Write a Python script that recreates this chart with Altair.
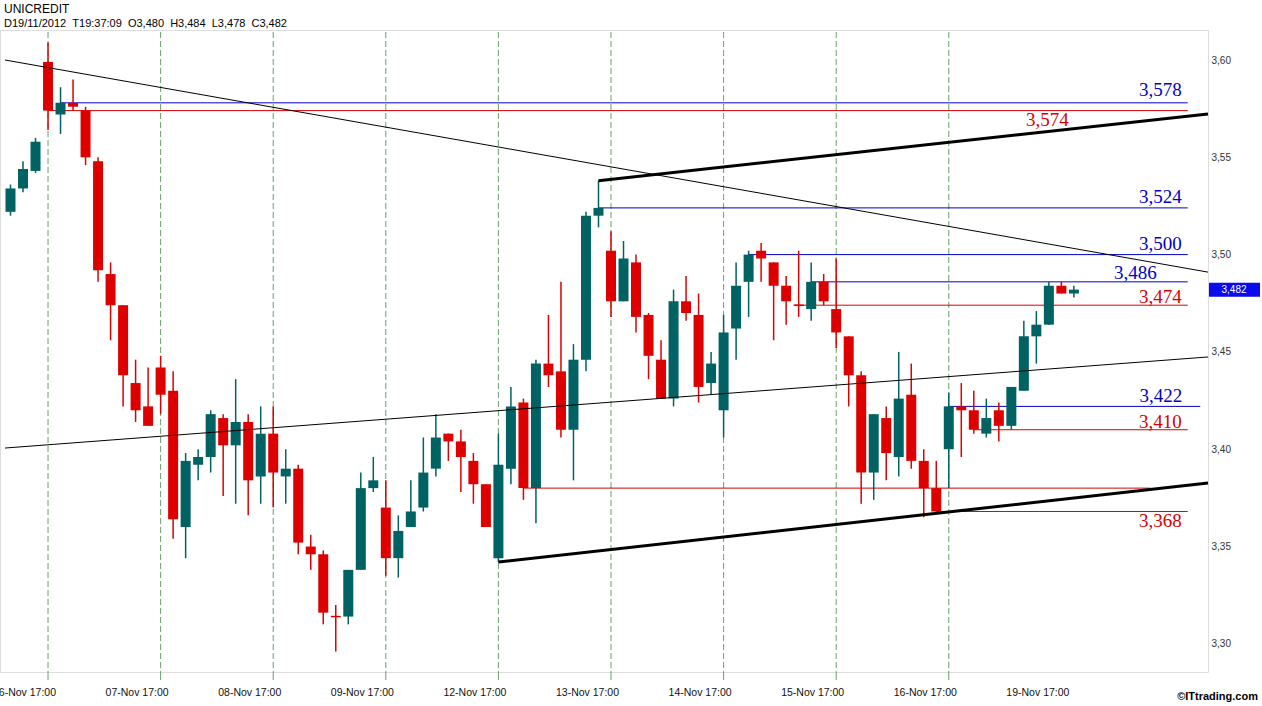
import altair as alt
import pandas as pd

# ---------------- data ----------------
title_main = "UNICREDIT"
title_info = "D19/11/2012  T19:37:09  O3,480  H3,484  L3,478  C3,482"
copyright_txt = "\u00a9ITtrading.com"
last_price = 3.482
last_price_label = "3,482"

idx = list(range(86))
opens = [3.522, 3.534, 3.543, 3.599, 3.572, 3.578, 3.574, 3.548, 3.490, 3.474,
         3.434, 3.422, 3.442, 3.430, 3.360, 3.392, 3.396, 3.416, 3.402, 3.414,
         3.386, 3.408, 3.386, 3.390, 3.350, 3.346, 3.314, 3.314, 3.338, 3.380,
         3.370, 3.344, 3.360, 3.370, 3.390, 3.408, 3.404, 3.394, 3.382, 3.344,
         3.390, 3.424, 3.380, 3.444, 3.440, 3.410, 3.446, 3.520, 3.502, 3.476,
         3.496, 3.469, 3.446, 3.426, 3.476, 3.469, 3.434, 3.420, 3.462, 3.486,
         3.502, 3.496, 3.484, 3.474, 3.472, 3.486, 3.472, 3.458, 3.438, 3.388,
         3.416, 3.396, 3.428, 3.394, 3.380, 3.400, 3.422, 3.420, 3.408, 3.420,
         3.412, 3.430, 3.458, 3.464, 3.484, 3.480]
highs = [3.536, 3.548, 3.560, 3.609, 3.586, 3.590, 3.576, 3.550, 3.496, 3.474,
         3.446, 3.442, 3.448, 3.440, 3.398, 3.400, 3.420, 3.418, 3.436, 3.418,
         3.422, 3.422, 3.400, 3.392, 3.356, 3.348, 3.320, 3.338, 3.388, 3.396,
         3.384, 3.366, 3.384, 3.406, 3.418, 3.408, 3.410, 3.398, 3.382, 3.408,
         3.432, 3.426, 3.446, 3.469, 3.486, 3.454, 3.522, 3.538, 3.512, 3.507,
         3.500, 3.470, 3.456, 3.482, 3.489, 3.480, 3.450, 3.469, 3.496, 3.502,
         3.506, 3.496, 3.489, 3.502, 3.496, 3.490, 3.498, 3.458, 3.440, 3.418,
         3.422, 3.450, 3.444, 3.400, 3.394, 3.429, 3.434, 3.430, 3.426, 3.424,
         3.432, 3.466, 3.471, 3.486, 3.486, 3.484]
lows = [3.520, 3.532, 3.542, 3.564, 3.562, 3.574, 3.546, 3.486, 3.456, 3.422,
        3.414, 3.412, 3.418, 3.354, 3.344, 3.384, 3.388, 3.376, 3.372, 3.366,
        3.372, 3.370, 3.372, 3.346, 3.338, 3.310, 3.296, 3.310, 3.338, 3.378,
        3.335, 3.334, 3.360, 3.368, 3.386, 3.394, 3.378, 3.372, 3.360, 3.342,
        3.382, 3.374, 3.362, 3.432, 3.406, 3.384, 3.440, 3.514, 3.468, 3.476,
        3.460, 3.436, 3.426, 3.422, 3.466, 3.424, 3.428, 3.406, 3.446, 3.468,
        3.486, 3.456, 3.464, 3.468, 3.466, 3.474, 3.452, 3.422, 3.372, 3.374,
        3.384, 3.386, 3.390, 3.365, 3.368, 3.380, 3.396, 3.408, 3.406, 3.404,
        3.410, 3.430, 3.444, 3.464, 3.480, 3.478]
closes = [3.534, 3.544, 3.558, 3.574, 3.578, 3.576, 3.550, 3.492, 3.474, 3.438,
          3.420, 3.412, 3.428, 3.364, 3.394, 3.396, 3.418, 3.402, 3.414, 3.384,
          3.408, 3.388, 3.390, 3.352, 3.346, 3.316, 3.314, 3.338, 3.380, 3.384,
          3.344, 3.358, 3.368, 3.388, 3.406, 3.404, 3.396, 3.382, 3.360, 3.392,
          3.422, 3.380, 3.444, 3.438, 3.410, 3.446, 3.520, 3.524, 3.476, 3.498,
          3.468, 3.448, 3.426, 3.476, 3.470, 3.432, 3.444, 3.460, 3.484, 3.500,
          3.498, 3.484, 3.476, 3.474, 3.486, 3.476, 3.460, 3.438, 3.388, 3.418,
          3.398, 3.426, 3.394, 3.380, 3.368, 3.422, 3.420, 3.410, 3.416, 3.412,
          3.432, 3.458, 3.464, 3.484, 3.480, 3.482]

day_idx = [3, 12, 21, 30, 39, 48, 57, 66, 75, 84]
day_labels = ["06-Nov 17:00", "07-Nov 17:00", "08-Nov 17:00", "09-Nov 17:00",
              "12-Nov 17:00", "13-Nov 17:00", "14-Nov 17:00", "15-Nov 17:00",
              "16-Nov 17:00", "19-Nov 17:00"]
grid_idx = day_idx[:-1]

y_ticks = [3.30, 3.35, 3.40, 3.45, 3.50, 3.55, 3.60]

level_price = [3.578, 3.574, 3.524, 3.500, 3.486, 3.474, 3.422, 3.410, 3.380, 3.368]
level_start = [4, 3, 47, 59, 64, 62.7, 75, 77, 41, 74]
level_end = [94.1, 94.1, 94.1, 94.1, 94.1, 94.1, 95.1, 94.1, 91.1, 94.1]
level_kind = ["res", "sup", "res", "res", "res", "sup", "res", "sup", "sup", "sup"]
level_text = ["3,578", "3,574", "3,524", "3,500", "3,486", "3,474", "3,422", "3,410", "", "3,368"]

trend_id = ["down", "down", "up", "up", "chan_hi", "chan_hi", "chan_lo", "chan_lo"]
trend_i = [-0.44, 95.72, -0.44, 95.72, 47, 95.72, 39, 95.72]
trend_p = [3.600, 3.491, 3.4006, 3.4474, 3.538, 3.5722, 3.342, 3.3826]
trend_thick = [False, False, False, False, True, True, True, True]

# ---------------- styles ----------------
TEAL = "#006262"
RED = "#dd0000"
BLUE_LINE = "#0000c8"
RED_LINE = "#d80000"
GRID = "#6a9f6a"
FONT = "Liberation Sans"

candles = pd.DataFrame({"i": idx, "open": opens, "high": highs, "low": lows, "close": closes})
levels = pd.DataFrame({"price": level_price, "start": level_start, "end": level_end,
                       "kind": level_kind, "text": level_text})
trends = pd.DataFrame({"id": trend_id, "i": trend_i, "p": trend_p, "thick": trend_thick})
days = pd.DataFrame({"i": grid_idx})

xs = alt.Scale(domain=[-0.839, 95.72], nice=False, zero=False, padding=0)
ys = alt.Scale(domain=[3.28551, 3.61542], nice=False, zero=False, padding=0)

label_arr = "[" + ",".join("'%s'" % s for s in day_labels) + "]"
xaxis = alt.Axis(values=day_idx, labelExpr=label_arr + "[round((datum.value-3)/9)]",
                 ticks=False, domain=False, grid=False, title=None,
                 labelFontSize=10.5, labelColor="#111", labelOffset=-24, labelPadding=15,
                 labelFont=FONT, labelOverlap=False, labelBound=False, labelFlush=False)
yaxis = alt.Axis(values=y_ticks, orient="right",
                 labelExpr="replace(format(datum.value, '.2f'), '.', ',')",
                 ticks=False, domain=False, grid=False, title=None,
                 labelFontSize=10, labelColor="#333", labelPadding=3, labelFont=FONT)

X = alt.X("i:Q", scale=xs, axis=xaxis)

grid = alt.Chart(days).mark_rule(color=GRID, strokeDash=[6, 3], strokeWidth=1).encode(
    x=X, y=alt.value(2), y2=alt.value(642))
ticks = alt.Chart(days).mark_rule(color=GRID, strokeWidth=1).encode(
    x=X, y=alt.value(642), y2=alt.value(650))

col = alt.condition("datum.close > datum.open", alt.value(TEAL), alt.value(RED))

wicks = alt.Chart(candles).mark_rule(strokeWidth=1.5).encode(
    x=X, y=alt.Y("low:Q", scale=ys, axis=yaxis), y2="high:Q", color=col)
bodies = alt.Chart(candles).mark_bar(width=10).encode(
    x=X, y=alt.Y("open:Q", scale=ys, axis=yaxis), y2="close:Q", color=col)
doji = alt.Chart(candles).transform_filter("datum.open == datum.close").transform_calculate(
    l="datum.i - 0.4", r="datum.i + 0.4").mark_rule(strokeWidth=1.5).encode(
    x=alt.X("l:Q", scale=xs, axis=xaxis), x2="r:Q",
    y=alt.Y("open:Q", scale=ys, axis=yaxis), color=col)

lvl_color = alt.Color("kind:N", scale=alt.Scale(domain=["res", "sup"], range=[BLUE_LINE, RED_LINE]),
                      legend=None)
level_lines = alt.Chart(levels).mark_rule(strokeWidth=1).encode(
    x=alt.X("start:Q", scale=xs, axis=xaxis), x2="end:Q",
    y=alt.Y("price:Q", scale=ys, axis=yaxis), color=lvl_color)

thin = alt.Chart(trends).transform_filter("!datum.thick").mark_line(color="#000", strokeWidth=1).encode(
    x=alt.X("i:Q", scale=xs, axis=xaxis), y=alt.Y("p:Q", scale=ys, axis=yaxis), detail="id:N")
thick = alt.Chart(trends).transform_filter("datum.thick").mark_line(color="#000", strokeWidth=3).encode(
    x=alt.X("i:Q", scale=xs, axis=xaxis), y=alt.Y("p:Q", scale=ys, axis=yaxis), detail="id:N")

# level labels
label_dx = [-6, -119, -6, -6, -31, -6, -18, -6, 0, -6]
label_dy = [-7, 15, -5, -5, -3, -2, -4, -2, 0, 16]
label_layers = []
for k in range(len(level_price)):
    if not level_text[k]:
        continue
    one = levels.iloc[[k]]
    label_layers.append(
        alt.Chart(one).mark_text(align="right", baseline="alphabetic", font="Liberation Serif",
                                 fontSize=19, dx=label_dx[k], dy=label_dy[k],
                                 color=BLUE_LINE if level_kind[k] == "res" else RED_LINE).encode(
            x=alt.X("end:Q", scale=xs, axis=xaxis), y=alt.Y("price:Q", scale=ys, axis=yaxis),
            text="text:N"))

price_df = pd.DataFrame({"p": [last_price], "t": [last_price_label]})
price_box = alt.Chart(price_df).mark_rect(color="#0a0aee", yOffset=-7, y2Offset=7).encode(
    x=alt.value(1209), x2=alt.value(1260), y=alt.Y("p:Q", scale=ys, axis=yaxis), y2="p:Q")
price_txt = alt.Chart(price_df).mark_text(color="white", fontSize=10, font=FONT, align="center").encode(
    x=alt.value(1234), y=alt.Y("p:Q", scale=ys, axis=yaxis), text="t:N")

hdr = pd.DataFrame({"a": [title_main], "b": [title_info.replace("  ", "\u00a0\u00a0")],
                    "c": [copyright_txt]})
h1 = alt.Chart(hdr).mark_text(align="left", baseline="middle", fontSize=12, font=FONT, color="#000").encode(
    x=alt.value(4), y=alt.value(-21), text="a:N")
h2 = alt.Chart(hdr).mark_text(align="left", baseline="middle", fontSize=11, font=FONT, color="#000").encode(
    x=alt.value(4), y=alt.value(-6), text="b:N")
h3 = alt.Chart(hdr).mark_text(align="right", baseline="middle", fontSize=11, fontWeight="bold",
                              font=FONT, color="#000").encode(
    x=alt.value(1258), y=alt.value(667), text="c:N")

chart = alt.layer(grid, ticks, level_lines, wicks, bodies, doji, thin, thick,
                  *label_layers, price_box, price_txt, h1, h2, h3).properties(
    width=1208, height=642,
    autosize=alt.AutoSizeParams(type="none"),
    padding={"left": 0, "top": 30, "right": 54, "bottom": 34},
    background="white",
).configure_view(stroke=None).configure(font=FONT)

chart.save("out.html", embed_options={"renderer": "svg", "actions": False})
